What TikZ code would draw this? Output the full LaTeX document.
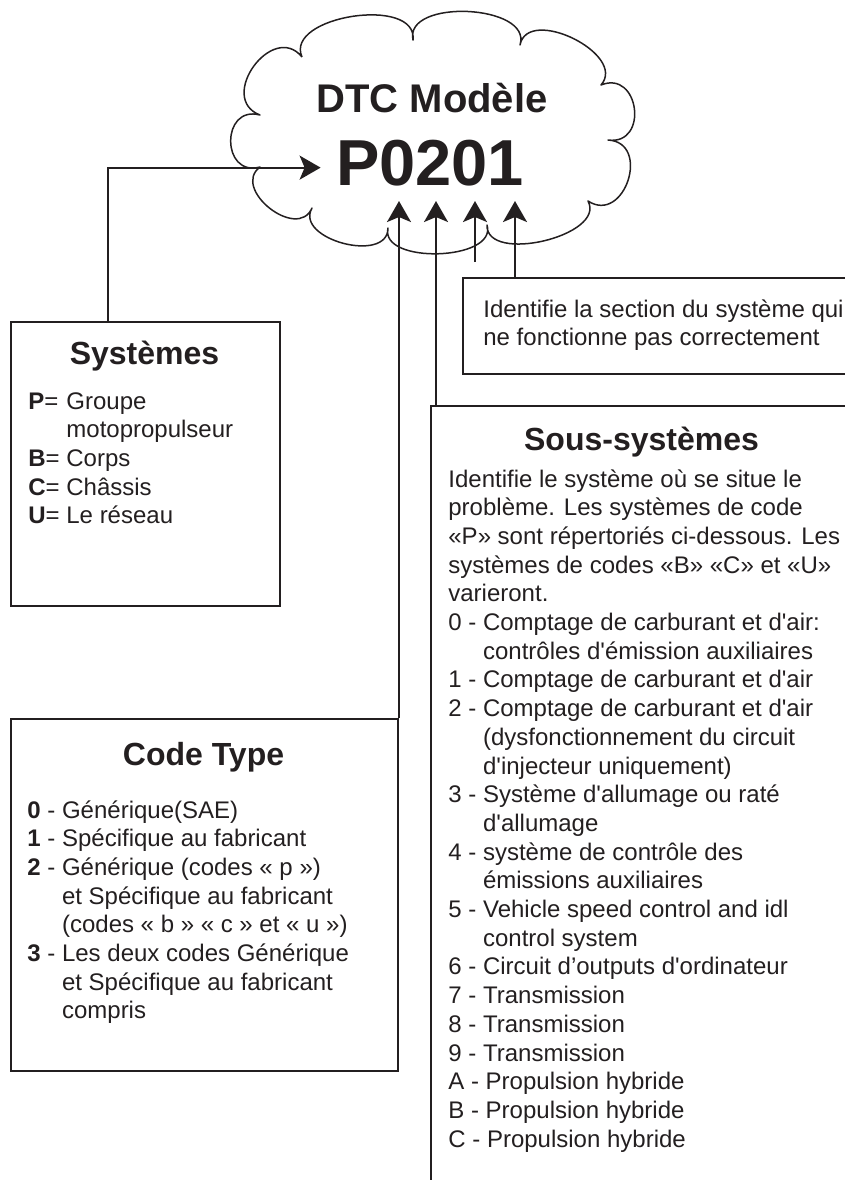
\documentclass[tikz,border=0pt]{standalone}
\usepackage{fontspec}
\setmainfont{Liberation Sans}[Ligatures=TeXOff]
\usepackage{tikz}
\usetikzlibrary{arrows.meta,positioning,calc}
\definecolor{ink}{RGB}{35,31,32}

\begin{document}
\begin{tikzpicture}[
    x=0.5pt, y=0.5pt,
    box/.style={draw=ink, line width=1pt, anchor=north west, inner sep=0pt},
    boxtitle/.style={font=\fontsize{16}{19}\selectfont\bfseries, text=ink, inner sep=0pt, anchor=base},
    boxtext/.style={font=\fontsize{12}{14.35}\selectfont, text=ink, inner sep=0pt, anchor=base west},
    arrow/.style={-{Stealth[length=10.5pt, width=12pt, inset=2.5pt]}, line width=1pt, draw=ink},
    cloudline/.style={line width=0.75pt, draw=ink, line join=round},
]
    \useasboundingbox (0,0) rectangle (845,-1180);

    % Cloud
    \coordinate (c1) at (302,-57);
    \coordinate (c2) at (413,-40);
    \coordinate (c3) at (520,-45);
    \coordinate (c4) at (601,-85);
    \coordinate (c5) at (608,-140);
    \coordinate (c6) at (588,-201);
    \coordinate (c7) at (487,-225);
    \coordinate (c8) at (388,-228);
    \coordinate (c9) at (312,-208);
    \coordinate (c10) at (260,-167);
    \coordinate (c11) at (260,-115);
    \draw[cloudline] (c1) foreach \a/\b/\k in {c1/c2/0.4, c2/c3/0.4, c3/c4/0.45, c4/c5/0.75,
        c5/c6/0.68, c6/c7/0.38, c7/c8/0.38, c8/c9/0.46, c9/c10/0.55, c10/c11/0.78, c11/c1/0.65}
        { .. controls ($(\a)!\k!105:(\b)$) and ($(\b)!\k!-105:(\a)$) .. (\b) };

    \node[font=\fontsize{20}{24}\selectfont\bfseries, text=ink, inner sep=0pt, anchor=base] (dtc) at (432,-112) {DTC Modèle};
    \node[font=\fontsize{32.5}{38}\selectfont\bfseries, text=ink, inner sep=7.5pt, anchor=base] (num) at (430,-185) {P0201};

    % Systemes
    \node[box, minimum width=134.5pt, minimum height=142pt] (sys) at (10,-321) {};
    \node[boxtitle] (systitle) at (144.5,-364) {Systèmes};
    \node[boxtext] (syslist) at (28,-409) {\begin{tabular}[t]{@{}l@{\ }l@{}}
        \textbf{P}= & Groupe\\
                    & motopropulseur\\
        \textbf{B}= & Corps\\
        \textbf{C}= & Châssis\\
        \textbf{U}= & Le réseau
    \end{tabular}};

    % Code Type
    \node[box, minimum width=193.5pt, minimum height=176pt] (code) at (10,-718) {};
    \node[boxtitle] (codetitle) at (203.5,-765) {Code Type};
    \node[boxtext] (codelist) at (27,-818) {\begin{tabular}[t]{@{}l@{\ }l@{}}
        \textbf{0} - & Générique(SAE)\\
        \textbf{1} - & Spécifique au fabricant\\
        \textbf{2} - & Générique (codes « p »)\\
                     & et Spécifique au fabricant\\
                     & (codes « b » « c » et « u »)\\
        \textbf{3} - & Les deux codes Générique\\
                     & et Spécifique au fabricant\\
                     & compris
    \end{tabular}};

    % Identifie
    \node[box, minimum width=195.5pt, minimum height=48pt] (ident) at (462,-277) {};
    \node[boxtext] (identtext) at (483,-317) {\begin{tabular}[t]{@{}l@{}}
        Identifie la section du système qui\\
        ne fonctionne pas correctement
    \end{tabular}};

    % Sous-systemes
    \node[box, minimum width=211.5pt, minimum height=392.5pt] (sub) at (430,-405) {};
    \node[boxtitle] (subtitle) at (641.5,-450) {Sous-systèmes};
    \node[boxtext] (sublist) at (448,-487) {\begin{tabular}[t]{@{}l@{\ }l@{}}
        \multicolumn{2}{@{}l@{}}{Identifie le système où se situe le}\\
        \multicolumn{2}{@{}l@{}}{problème. Les systèmes de code}\\
        \multicolumn{2}{@{}l@{}}{«P» sont répertoriés ci-dessous. Les}\\
        \multicolumn{2}{@{}l@{}}{systèmes de codes «B» «C» et «U»}\\
        \multicolumn{2}{@{}l@{}}{varieront.}\\
        0 - & Comptage de carburant et d'air:\\
            & contrôles d'émission auxiliaires\\
        1 - & Comptage de carburant et d'air\\
        2 - & Comptage de carburant et d'air\\
            & (dysfonctionnement du circuit\\
            & d'injecteur uniquement)\\
        3 - & Système d'allumage ou raté\\
            & d'allumage\\
        4 - & système de contrôle des\\
            & émissions auxiliaires\\
        5 - & Vehicle speed control and idl\\
            & control system\\
        6 - & Circuit d’outputs d'ordinateur\\
        7 - & Transmission\\
        8 - & Transmission\\
        9 - & Transmission\\
        \multicolumn{2}{@{}l@{}}{A - Propulsion hybride}\\
        \multicolumn{2}{@{}l@{}}{B - Propulsion hybride}\\
        \multicolumn{2}{@{}l@{}}{C - Propulsion hybride}
    \end{tabular}};

    % Arrows
    \coordinate (subtop) at ([xshift=3pt]sub.north west);
    \coordinate (identtop) at ([xshift=26.5pt]ident.north west);
    \coordinate (free) at (475,-262);
    \draw[arrow] ([xshift=-18.75pt]sys.north) |- ([yshift=-2.5pt]num.west);
    \draw[arrow] (code.north east) -- (code.north east |- num.south);
    \draw[arrow] (subtop) -- (subtop |- num.south);
    \draw[arrow] (free) -- (free |- num.south);
    \draw[arrow] (identtop) -- (identtop |- num.south);
\end{tikzpicture}
\end{document}
